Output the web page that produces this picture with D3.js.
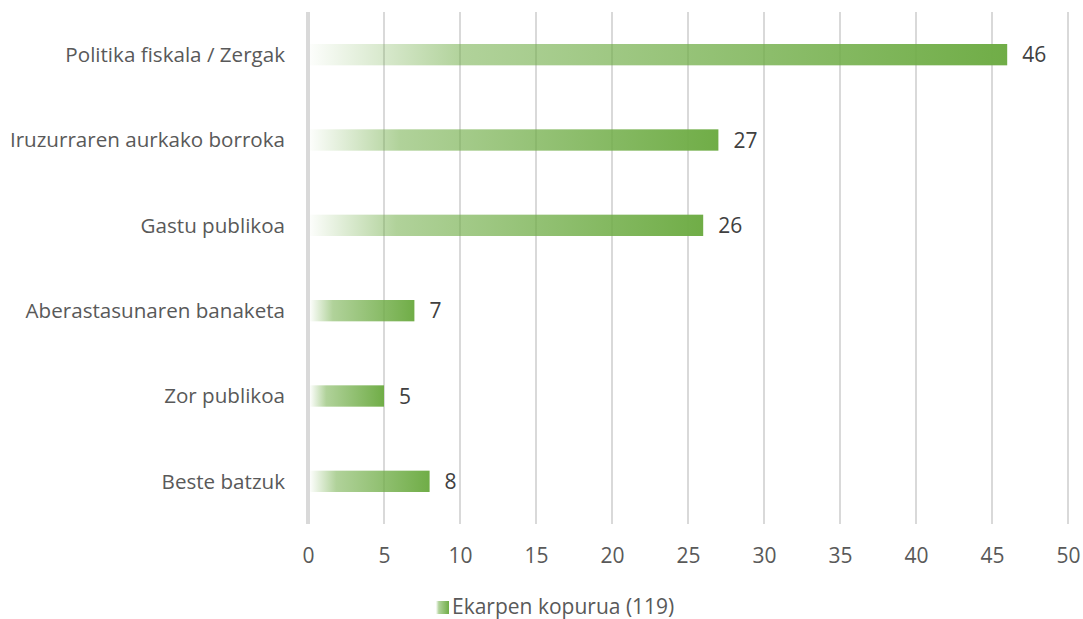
<!DOCTYPE html>
<html>
<head>
<meta charset="utf-8">
<script src="https://cdn.jsdelivr.net/npm/d3@7"></script>
<style>
  body { margin: 0; background: #fff; }
  text { font-family: "Open Sans", sans-serif; }
</style>
</head>
<body>
<div id="chart"></div>
<script>
var categories = ["Politika fiskala / Zergak", "Iruzurraren aurkako borroka", "Gastu publikoa",
                  "Aberastasunaren banaketa", "Zor publikoa", "Beste batzuk"];
var values = [46, 27, 26, 7, 5, 8];
var ticks = [0, 5, 10, 15, 20, 25, 30, 35, 40, 45, 50];
var seriesName = "Ekarpen kopurua (119)";

var width = 1083, height = 619;
var mLeft = 308, mRight = 1068, mTop = 12, mBottom = 524;
var green = "#70AD47";

var svg = d3.select("#chart").append("svg")
    .attr("width", width).attr("height", height);

var defs = svg.append("defs");
var grad = defs.append("linearGradient").attr("id", "barGrad")
    .attr("x1", "0").attr("x2", "1").attr("y1", "0").attr("y2", "0");
grad.append("stop").attr("offset", "0").attr("stop-color", green).attr("stop-opacity", 0.02);
grad.append("stop").attr("offset", "0.22").attr("stop-color", green).attr("stop-opacity", 0.55);
grad.append("stop").attr("offset", "1").attr("stop-color", green).attr("stop-opacity", 1);

var x = d3.scaleLinear().domain([0, 50]).range([mLeft, mRight]);
var y = d3.scaleBand().domain(categories).range([mTop, mBottom]).paddingInner(0.75).paddingOuter(0.375);

// gridlines
svg.selectAll("line.grid")
    .data(ticks.slice(1))
    .enter().append("line")
    .attr("class", "grid")
    .attr("x1", function(d) { return x(d); })
    .attr("x2", function(d) { return x(d); })
    .attr("y1", mTop).attr("y2", mBottom)
    .attr("stroke", "#D9D9D9").attr("stroke-width", 2);

// bars
svg.selectAll("rect.bar")
    .data(values)
    .enter().append("rect")
    .attr("class", "bar")
    .attr("x", x(0) + 2)
    .attr("y", function(d, i) { return y(categories[i]); })
    .attr("width", function(d) { return x(d) - x(0) - 2; })
    .attr("height", y.bandwidth())
    .attr("fill", "url(#barGrad)");

// axis line at 0
svg.append("line")
    .attr("x1", x(0)).attr("x2", x(0))
    .attr("y1", mTop).attr("y2", mBottom)
    .attr("stroke", "#D9D9D9").attr("stroke-width", 4);

// value labels
svg.selectAll("text.val")
    .data(values)
    .enter().append("text")
    .attr("class", "val")
    .attr("x", function(d) { return x(d) + 15; })
    .attr("y", function(d, i) { return y(categories[i]) + y.bandwidth() / 2; })
    .attr("dy", "0.36em")
    .attr("font-size", 21)
    .attr("fill", "#404040")
    .text(function(d) { return d; });

// category labels
svg.selectAll("text.cat")
    .data(categories)
    .enter().append("text")
    .attr("class", "cat")
    .attr("x", 285)
    .attr("y", function(d) { return y(d) + y.bandwidth() / 2; })
    .attr("dy", "0.36em")
    .attr("text-anchor", "end")
    .attr("font-size", 20.6)
    .attr("fill", "#595959")
    .text(function(d) { return d; });

// x tick labels
var xAxis = d3.axisBottom(x).tickValues(ticks).tickSize(0).tickPadding(0);
var gx = svg.append("g")
    .attr("transform", "translate(0,563)")
    .call(xAxis);
gx.select(".domain").remove();
gx.selectAll("text")
    .attr("y", 0).attr("dy", 0)
    .attr("font-family", "Open Sans, sans-serif")
    .attr("font-size", 21)
    .attr("fill", "#595959");

// legend
var lg = svg.append("g").attr("transform", "translate(436,601)");
lg.append("rect").attr("width", 13).attr("height", 13).attr("fill", "url(#barGrad)");
lg.append("text").attr("x", 16).attr("y", 13)
    .attr("font-size", 21).attr("fill", "#595959")
    .text(seriesName);
</script>
</body>
</html>
